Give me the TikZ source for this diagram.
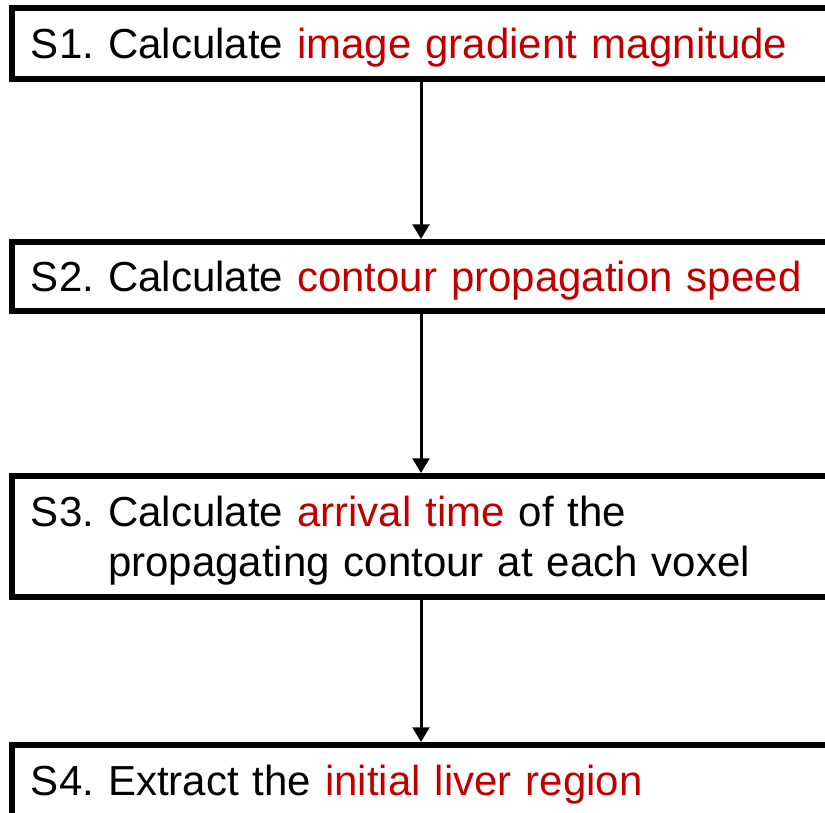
\documentclass[tikz,border=0pt]{standalone}
\usepackage{fontspec}
\setmainfont{Liberation Sans}
\usetikzlibrary{positioning,arrows.meta}
\definecolor{stepred}{HTML}{C00000}
\newcommand{\hl}[1]{\textcolor{stepred}{#1}}
\frenchspacing

\begin{document}
\begin{tikzpicture}[x=0.75pt,y=-0.75pt,
    stepbox/.style={draw,line width=4.5pt,outer sep=0pt,anchor=north west,
      text width=600pt,align=left,inner xsep=14.25pt,inner ysep=0pt,
      text height=22.5pt,text depth=0pt,
      font=\fontsize{31.5pt}{37.5pt}\selectfont},
    flow/.style={line width=2.25pt,-{Triangle[width=12.5pt,length=11pt]},shorten >=2.25pt}]
  \path[use as bounding box,clip] (0,0) rectangle (825,813);
  % the four steps
  \node[stepbox,minimum height=53.25pt] (s1) at (12,8)
    {S1. Calculate \hl{image gradient magnitude}};
  \node[stepbox,minimum height=51.75pt,below=122.25pt of s1.south west,anchor=north west] (s2)
    {S2. Calculate \hl{contour propagation speed}};
  \node[stepbox,minimum height=90.75pt,text depth=37.5pt,below=123.75pt of s2.south west,anchor=north west] (s3)
    {S3. Calculate \hl{arrival time} of the\\
     \hphantom{S3.\ }propagating contour at each voxel};
  \node[stepbox,minimum height=53.25pt,below=111pt of s3.south west,anchor=north west] (s4)
    {S4. Extract the \hl{initial liver region}};
  % arrows down the middle
  \coordinate (ax) at (421,0);
  \draw[flow] (s1.south -| ax) -- (s2.north -| ax);
  \draw[flow] (s2.south -| ax) -- (s3.north -| ax);
  \draw[flow] (s3.south -| ax) -- (s4.north -| ax);
\end{tikzpicture}
\end{document}
